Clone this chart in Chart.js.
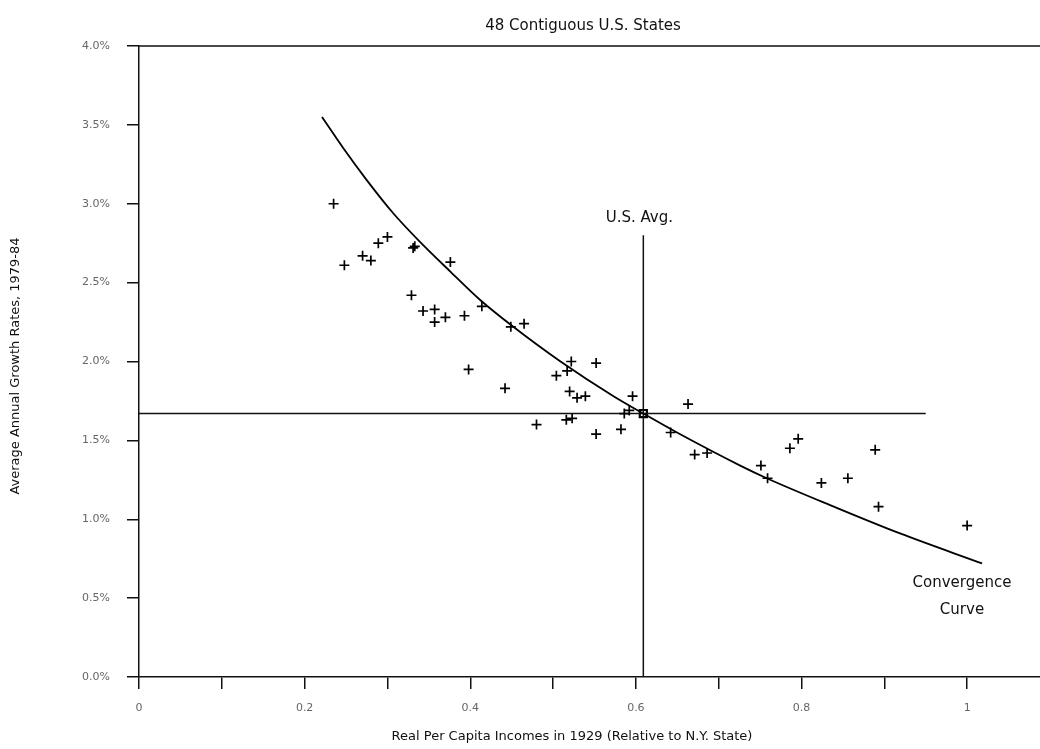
<!DOCTYPE html>
<html>
<head>
<meta charset="utf-8">
<script src="https://cdn.jsdelivr.net/npm/chart.js@4.4.1/dist/chart.umd.min.js"></script>
<style>
    body { margin: 0; background: #fff; }
    canvas { display: block; }
</style>
</head>
<body>
<canvas id="convergenceChart" width="1040" height="749"></canvas>
<script>
// --- Data ---
// per capita income 1929, relative to N.Y. State
const stateIncome = [
    0.235, 0.248, 0.270, 0.280, 0.289, 0.300, 0.331, 0.333, 0.376, 0.329,
    0.343, 0.357, 0.357, 0.370, 0.393, 0.414, 0.449, 0.465, 0.398, 0.442,
    0.504, 0.522, 0.552, 0.517, 0.520, 0.529, 0.539, 0.596, 0.663, 0.480,
    0.516, 0.523, 0.552, 0.582, 0.586, 0.592, 0.642, 0.671, 0.686, 0.786,
    0.796, 0.751, 0.759, 0.824, 0.856, 0.889, 0.893, 1.000
];
// average annual growth rate 1979-84, in %
const stateGrowth = [
    3.00, 2.61, 2.67, 2.64, 2.75, 2.79, 2.72, 2.73, 2.63, 2.42,
    2.32, 2.33, 2.25, 2.28, 2.29, 2.35, 2.22, 2.24, 1.95, 1.83,
    1.91, 2.00, 1.99, 1.94, 1.81, 1.77, 1.78, 1.78, 1.73, 1.60,
    1.63, 1.64, 1.54, 1.57, 1.67, 1.69, 1.55, 1.41, 1.42, 1.45,
    1.51, 1.34, 1.26, 1.23, 1.26, 1.44, 1.08, 0.96
];

// convergence curve, traced
const curveIncome = [0.221, 0.247, 0.275, 0.307, 0.339, 0.376, 0.412, 0.452, 0.509, 0.573, 0.609, 0.653, 0.726, 0.758, 0.839, 0.919, 1.018];
const curveGrowth = [3.55, 3.35, 3.15, 2.94, 2.76, 2.57, 2.39, 2.22, 2.00, 1.78, 1.67, 1.54, 1.34, 1.26, 1.08, 0.91, 0.72];

const usAvgIncome = 0.609;
const usAvgGrowth = 1.67;
const usAvgLineTop = 2.80;     // vertical U.S. avg line stops below its label
const usAvgLineRight = 0.95;   // horizontal U.S. avg line end

const xTickValues = [0, 0.1, 0.2, 0.3, 0.4, 0.5, 0.6, 0.7, 0.8, 0.9, 1.0];
const xTickLabels = ['0', '', '0.2', '', '0.4', '', '0.6', '', '0.8', '', '1'];
const yTickValues = [0, 0.5, 1, 1.5, 2, 2.5, 3, 3.5, 4];

const FONT = "'DejaVu Sans', sans-serif";

const toPoints = (xs, ys) => xs.map((x, i) => ({ x: x, y: ys[i] }));

// --- Texts and frame drawn on top ---
const labelsPlugin = {
    id: 'labels',
    afterDraw(chart) {
        const ctx = chart.ctx;
        const area = chart.chartArea;
        const xs = chart.scales.x;
        const ys = chart.scales.y;
        ctx.save();

        // top frame line
        ctx.strokeStyle = '#111';
        ctx.lineWidth = 1.5;
        ctx.beginPath();
        ctx.moveTo(area.left, area.top);
        ctx.lineTo(area.right, area.top);
        ctx.stroke();

        ctx.fillStyle = '#111';
        ctx.textAlign = 'center';
        ctx.textBaseline = 'middle';

        ctx.font = '15px ' + FONT;
        ctx.fillText('48 Contiguous U.S. States', 583, 26);

        ctx.font = '13px ' + FONT;
        ctx.fillText('Real Per Capita Incomes in 1929 (Relative to N.Y. State)', 572, 737);

        ctx.save();
        ctx.translate(16, 366);
        ctx.rotate(-Math.PI / 2);
        ctx.fillText('Average Annual Growth Rates, 1979-84', 0, 0);
        ctx.restore();

        ctx.font = '15px ' + FONT;
        ctx.fillText('U.S. Avg.', xs.getPixelForValue(usAvgIncome) - 4, ys.getPixelForValue(2.91));

        ctx.fillText('Convergence', 962, 583);
        ctx.fillText('Curve', 962, 610);

        ctx.restore();
    }
};

const ctx = document.getElementById('convergenceChart').getContext('2d');

new Chart(ctx, {
    type: 'scatter',
    data: {
        datasets: [
            {
                label: 'States',
                data: toPoints(stateIncome, stateGrowth),
                pointStyle: 'cross',
                pointRadius: 5,
                borderColor: '#000',
                borderWidth: 1.7
            },
            {
                label: 'Convergence Curve',
                type: 'line',
                data: toPoints(curveIncome, curveGrowth),
                borderColor: '#000',
                borderWidth: 1.8,
                pointRadius: 0,
                cubicInterpolationMode: 'monotone',
                fill: false
            },
            {
                label: 'U.S. Avg. vertical',
                type: 'line',
                data: [{ x: usAvgIncome, y: 0 }, { x: usAvgIncome, y: usAvgLineTop }],
                borderColor: '#111',
                borderWidth: 1.5,
                pointRadius: 0
            },
            {
                label: 'U.S. Avg. horizontal',
                type: 'line',
                data: [{ x: 0, y: usAvgGrowth }, { x: usAvgLineRight, y: usAvgGrowth }],
                borderColor: '#111',
                borderWidth: 1.5,
                pointRadius: 0
            },
            {
                label: 'U.S. Avg.',
                data: [{ x: usAvgIncome, y: usAvgGrowth }],
                pointStyle: 'rect',
                pointRadius: 5,
                borderColor: '#000',
                backgroundColor: 'rgba(0,0,0,0)',
                borderWidth: 2.2
            }
        ]
    },
    options: {
        responsive: false,
        animation: false,
        layout: { autoPadding: false, padding: { top: 46, right: 0, bottom: 0, left: 0 } },
        plugins: {
            legend: { display: false },
            tooltip: { enabled: false }
        },
        scales: {
            x: {
                type: 'linear',
                min: 0,
                max: 1.088,
                afterBuildTicks: (scale) => { scale.ticks = xTickValues.map(v => ({ value: v })); },
                afterFit: (scale) => { scale.height = 72; },
                grid: { drawOnChartArea: false, drawTicks: true, tickLength: 12, color: '#111', lineWidth: 1.5 },
                border: { color: '#111', width: 1.5 },
                ticks: {
                    callback: (v, i) => xTickLabels[i],
                    padding: 13,
                    maxRotation: 0,
                    autoSkip: false,
                    color: '#666',
                    font: { family: FONT, size: 11 }
                }
            },
            y: {
                min: 0,
                max: 4,
                afterBuildTicks: (scale) => { scale.ticks = yTickValues.map(v => ({ value: v })); },
                afterFit: (scale) => { scale.width = 139; },
                grid: { drawOnChartArea: false, drawTicks: true, tickLength: 12, color: '#111', lineWidth: 1.5 },
                border: { color: '#111', width: 1.5 },
                ticks: {
                    callback: (v) => v.toFixed(1) + '%',
                    padding: 17,
                    color: '#666',
                    font: { family: FONT, size: 11 }
                }
            }
        }
    },
    plugins: [labelsPlugin]
});
</script>
</body>
</html>
